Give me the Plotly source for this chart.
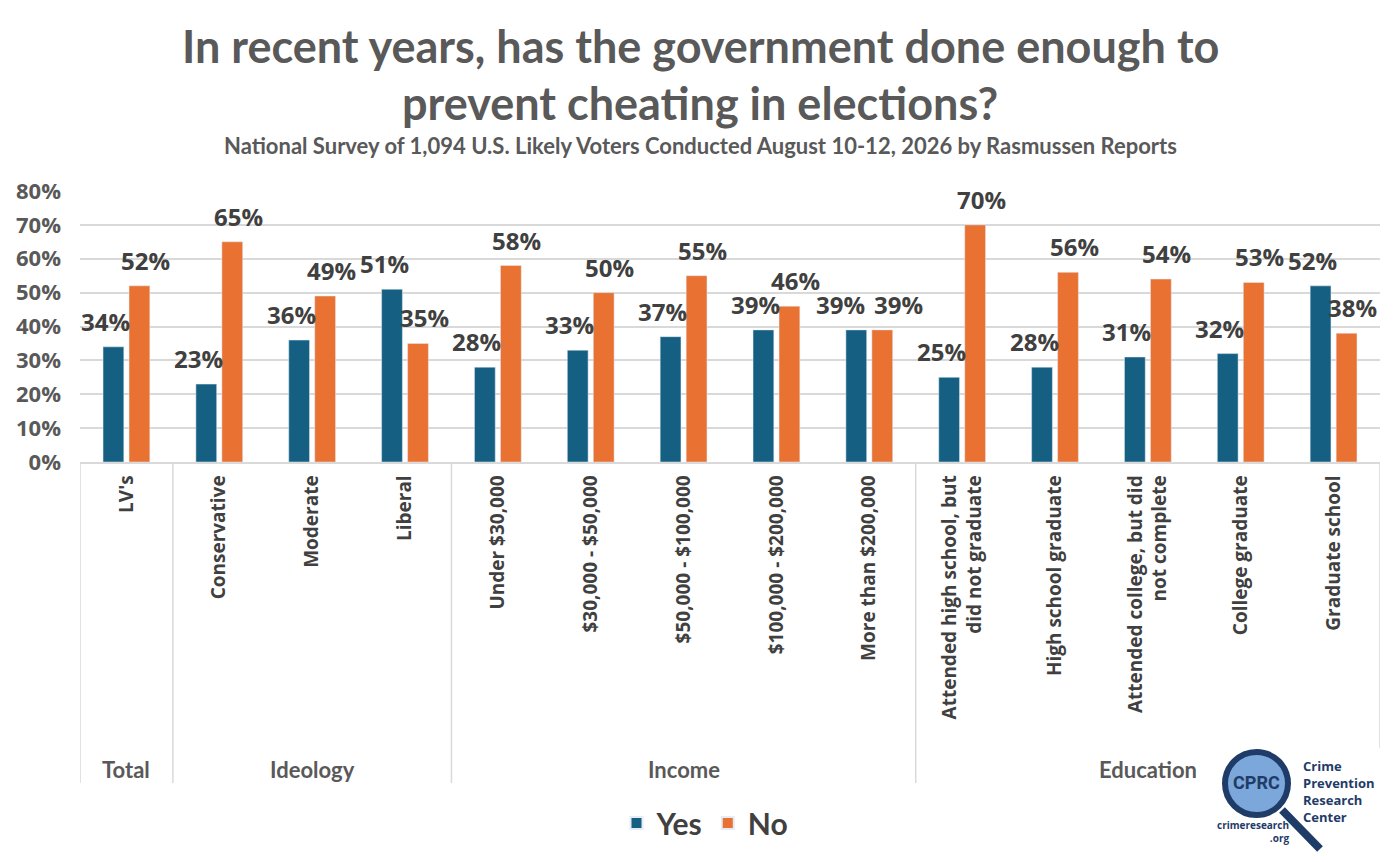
import plotly.graph_objects as go

# survey data (percent)
categories = [
    "LV's", "Conservative", "Moderate", "Liberal",
    "Under $30,000", "$30,000 - $50,000", "$50,000 - $100,000",
    "$100,000 - $200,000", "More than $200,000",
    "Attended high school, but<br>did not graduate", "High school graduate",
    "Attended college, but did<br>not complete", "College graduate", "Graduate school",
]
yes_vals = [34, 23, 36, 51, 28, 33, 37, 39, 39, 25, 28, 31, 32, 52]
no_vals = [52, 65, 49, 35, 58, 50, 55, 46, 39, 70, 56, 54, 53, 38]
groups = ["Total", "Ideology", "Income", "Education"]
group_sizes = [1, 3, 5, 5]
y_ticks = [0, 10, 20, 30, 40, 50, 60, 70, 80]

BLUE = "#156082"
ORANGE = "#E97132"
NAVY = "#1F3B68"

# plot area in reference pixels; the page adds an 8px body margin
L, R, T, B = 80, 1380, 191, 462
OFF = 8
W, H = 1400 - OFF, 862 - OFF


def px(x, y):
    return (x - L) / (R - L), (B - y) / (B - T)


def note(x, y, text, size, color, family="Lato", **kw):
    ax, ay = px(x, y)
    d = dict(x=ax, y=ay, xref="paper", yref="paper", text=text, showarrow=False,
             xanchor="center", yanchor="middle",
             font=dict(family=family, size=size, color=color, weight="bold"))
    d.update(kw)
    return d


xs = list(range(len(categories)))

fig = go.Figure()
fig.add_trace(go.Bar(x=xs, y=yes_vals, name="Yes", marker_color=BLUE))
fig.add_trace(go.Bar(x=xs, y=no_vals, name="No", marker_color=ORANGE))

annotations = []
# data labels
for i, (yv, nv) in enumerate(zip(yes_vals, no_vals)):
    close = abs(yv - nv) <= 3
    for val, off, shift in ((yv, -0.14, -16 if close else -8), (nv, 0.14, 16 if close else 6)):
        annotations.append(dict(
            x=i + off, y=val, xref="x", yref="y", text=f"{val}%", showarrow=False,
            xanchor="center", yanchor="bottom", yshift=7, xshift=shift,
            font=dict(family="Open Sans", size=24, color="#404040", weight="bold"),
        ))

# group labels and separators
shapes = []
start = 0
bounds = [-0.5]
for g, n in zip(groups, group_sizes):
    center = start + (n - 1) / 2
    annotations.append(dict(
        x=center, y=px(0, 769)[1], xref="x", yref="paper", text=g, showarrow=False,
        xanchor="center", yanchor="middle",
        font=dict(family="Lato", size=22, color="#595959", weight="bold"),
    ))
    start += n
    bounds.append(start - 0.5)
for k, b in enumerate(bounds):
    y_end = px(0, 748 if k == len(bounds) - 1 else 783)[1]
    shapes.append(dict(type="line", xref="x", yref="paper", x0=b, x1=b, y0=0, y1=y_end,
                       line=dict(color="#D9D9D9", width=1.5)))

# titles
annotations += [
    note(700, 46, "In recent years, has the government done enough to", 45, "#595959"),
    note(700, 103, "prevent cheating in elections?", 45, "#595959"),
    note(700, 145, "National Survey of 1,094 U.S. Likely Voters Conducted August 10-12, 2026 by Rasmussen Reports",
         22, "#595959"),
]

# CPRC logo (approximation)
cx0, cy0 = px(1225, 752)
cx1, cy1 = px(1288, 815)
hx0, hy0 = px(1282, 810)
hx1, hy1 = px(1320, 849)
shapes += [
    dict(type="line", xref="paper", yref="paper", x0=hx0, y0=hy0, x1=hx1, y1=hy1,
         line=dict(color=NAVY, width=8)),
    dict(type="circle", xref="paper", yref="paper", x0=cx0, y0=cy1, x1=cx1, y1=cy0,
         fillcolor="#7BA7DA", line=dict(color=NAVY, width=6)),
]
annotations.append(note(1256, 783, "CPRC", 18, NAVY, family="Roboto"))
annotations.append(note(1301, 791, "Crime<br>Prevention<br>Research<br>Center", 13, NAVY,
                        family="Open Sans", xanchor="left", align="left"))
annotations.append(note(1291, 832, "crimeresearch<br>.org", 10, NAVY,
                        family="Open Sans", xanchor="right", align="right"))

lgx, lgy = px(705, 823)
fig.update_layout(
    width=W, height=H,
    margin=dict(l=L - OFF, r=W - (R - OFF), t=T - OFF, b=H - (B - OFF), autoexpand=False),
    paper_bgcolor="white", plot_bgcolor="white",
    barmode="group", bargap=0.44, bargroupgap=0.2,
    showlegend=True,
    legend=dict(orientation="h", x=lgx, y=lgy, xanchor="center", yanchor="middle",
                font=dict(family="Lato", size=30, color="#404040", weight="bold"),
                itemsizing="constant"),
    annotations=annotations,
    shapes=shapes,
    xaxis=dict(range=[-0.5, len(categories) - 0.5], tickvals=xs, ticktext=categories,
               tickangle=-90, showgrid=False, showline=True, linecolor="#D9D9D9", linewidth=1.5,
               ticks="", ticklabelstandoff=4, automargin=False,
               tickfont=dict(family="Open Sans", size=19, color="#404040", weight="bold")),
    yaxis=dict(range=[0, 80], tickvals=y_ticks, ticktext=[f"{v}%" for v in y_ticks], showgrid=True,
               gridcolor="#D9D9D9", gridwidth=1.5, zeroline=False, ticks="", ticklabelstandoff=18,
               automargin=False,
               tickfont=dict(family="Open Sans", size=22, color="#595959", weight="bold")),
)

fig.write_html("out.html")
